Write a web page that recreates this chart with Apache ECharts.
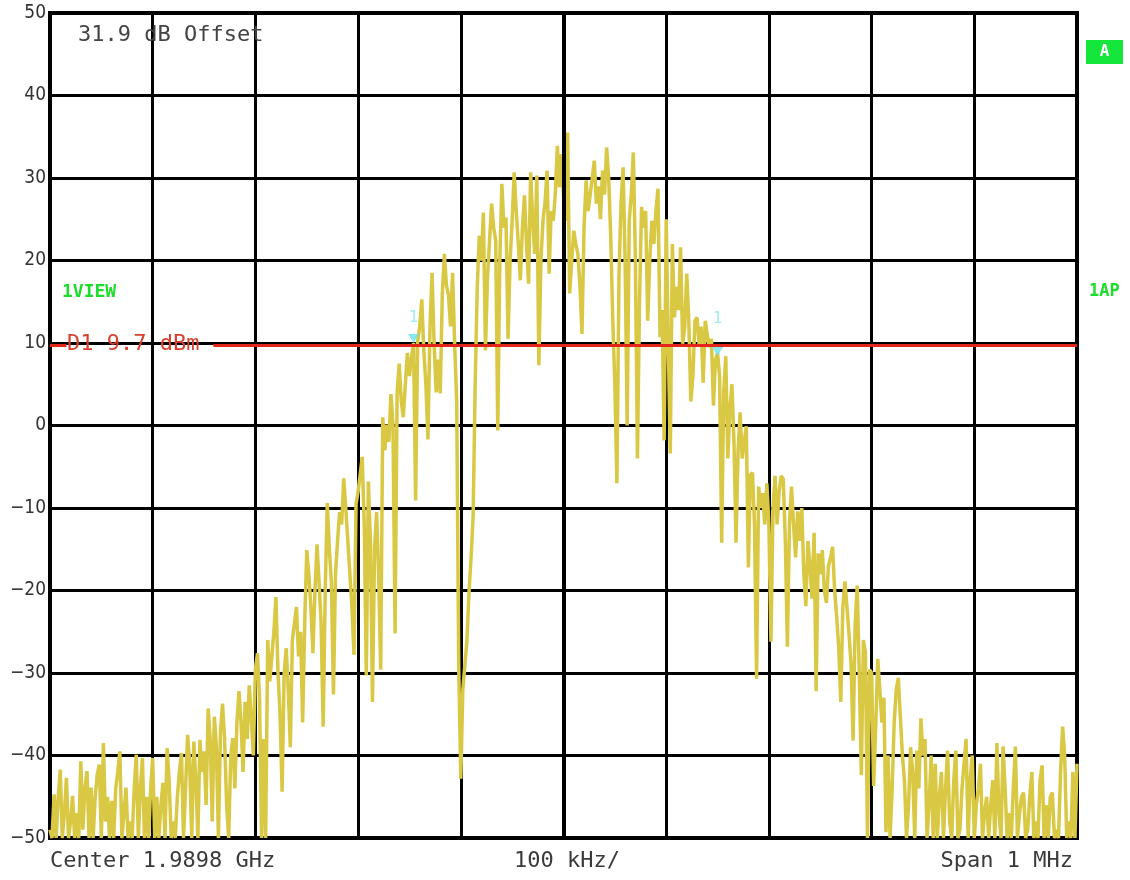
<!DOCTYPE html>
<html>
<head>
<meta charset="utf-8">
<script src="https://cdn.jsdelivr.net/npm/echarts@6/dist/echarts.min.js"></script>
<style>
  html, body { margin: 0; padding: 0; background: #ffffff; }
  #chart { width: 1130px; height: 880px; }
</style>
</head>
<body>
<div id="chart"></div>
<script>
// Sweep: 1 MHz span around the centre frequency, offsets in kHz
const sweepStartKHz = -500;
const sweepSpanKHz = 1000;

// Level axis (dBm)
const levelMin = -50;
const levelMax = 50;
const levelStep = 10;

// Display line D1
const displayLineLevel = 9.7;

// Marker "1" positions (kHz offset, dBm)
const markerFreqKHz = [-146, 150];
const markerLevel = [9.7, 9.7];

// Measured trace, 501 sweep points (dBm), 25 points per row = 50 kHz
const traceLevels = [
  -49, -50, -44.7, -50, -45, -41.7, -50, -47, -42.7, -50, -48, -44.9, -50, -47, -50, -40.7, -49, -44, -41.9, -50, -43.9, -50, -45, -42.3, -41.1,
  -50, -38.5, -48, -45, -50, -45.5, -50, -44, -42, -39.5, -50, -47, -43.9, -50, -48, -50, -44, -39.9, -50, -44, -40.3, -50, -45, -50, -44,
  -40.3, -50, -45, -50, -46, -43.3, -50, -39.1, -43, -50, -48, -50, -45, -42, -39.7, -50, -44, -37.5, -41, -50, -38.3, -43, -50, -38.1, -42,
  -39.5, -46, -34.3, -38, -48, -35.3, -39, -50, -37, -33.7, -38, -46, -50, -40, -37.9, -44, -36, -32.2, -36, -42, -33.5, -38, -31.5, -35.5, -40,
  -29.5, -27.6, -33, -50, -38, -50, -26, -31, -28, -25, -20.8, -30, -35, -44.4, -30, -27, -32, -39, -26, -24, -22, -28, -25, -36, -24,
  -15.1, -18, -22, -27.6, -20, -14.4, -19, -24, -36.5, -20, -9.4, -15, -19, -32.6, -18, -14, -10.5, -12, -6.4, -10, -14, -18, -22, -27.8, -9.5,
  -8, -6, -3.8, -12, -30.3, -6.8, -14, -33.5, -15, -10.5, -18, -29.6, 1.0, -3, 0.1, -2, 3.8, 0, -25.2, 4, 7.5, 3, 1, 5, 8.8,
  6, 8.2, 10, -9.1, 10.2, 12, 15.3, 9, 5, -1.7, 12, 18.5, 10, 4, 8, 3.9, 16, 20.8, 17, 15.8, 12, 18.5, 10, 2.9, -29.4,
  -42.8, -32, -29, -26, -20.2, -16, -11, 5, 16.7, 23, 20, 25.8, 9.1, 18, 22.4, 26.9, 24, 22.4, -0.6, 20, 29.3, 24, 25.2, 10.5, 20,
  24.8, 30.7, 26, 22, 17.6, 24, 27.9, 22, 17.2, 30.7, 25, 20.8, 30.3, 7.3, 20, 24.8, 27, 30.9, 18.4, 26, 24.8, 28, 33.9, 28.9, 32.9,
  28, 24.8, 35.5, 16, 20, 23.6, 22, 20.8, 17, 11.1, 24, 29.7, 26, 28, 30, 32.1, 26.9, 29, 25, 30.9, 28, 33.7, 30, 22.8, 12.7,
  5, -7, 18, 26.9, 31.3, 20, 0, 24.8, 28, 33.1, 20, -4, 15, 26.5, 24, 26, 12.7, 20, 24.8, 22, 26, 28.7, 10.7, 14, -1.8,
  25, 10, -3.4, 22, 13.1, 16.8, 14, 21.6, 9.9, 11.8, 18.4, 12.7, 2.9, 6, 12.7, 13.1, 9.9, 12, 5.2, 12.7, 11, 9.5, 10.5, 2.4, 8,
  8.8, 6, -14.2, 4, 8.4, -4, 2, 5, -2, -14.2, -3, 1.6, -4, -2, -0.1, -17.2, -6, -5.7, -12, -30.7, -7.4, -10, -8.2, -12, -7,
  -12, -26.2, -10, -6.1, -12, -8, -6.1, -6.5, -14, -26.8, -12, -7.4, -12, -16, -10.4, -14, -10, -18, -21.9, -14, -17, -21, -13, -32.2, -15.5,
  -18, -15.1, -20, -21.5, -17, -16, -14.7, -20, -23.2, -27, -33.5, -22, -18.9, -22, -25.3, -29, -38.2, -24, -19.4, -30, -42.4, -26, -27.5, -50, -29.6,
  -30, -43.7, -36.5, -28.3, -32, -36, -33, -49.3, -40, -50, -44, -36, -32, -30.6, -35.3, -40, -43, -50, -46, -39, -42, -50, -39.4, -44, -35.5,
  -40, -38, -50, -46, -40, -50, -41, -50, -45, -42, -50, -44, -39.4, -48, -50, -43, -39.4, -50, -49, -44, -41, -38, -50, -43, -40,
  -50, -46, -44, -41, -50, -47, -45, -50, -46, -43, -50, -38.5, -47, -50, -38.9, -44, -50, -47, -50, -44, -38.9, -50, -47, -45, -44.5,
  -50, -49, -45, -42, -50, -48, -50, -43, -41.2, -50, -46, -50, -45, -44.5, -50, -49, -50, -42, -36.5, -40, -50, -48, -50, -42, -50,
  -41
];

const sweepStep = sweepSpanKHz / (traceLevels.length - 1);
const traceData = traceLevels.map((v, i) => [sweepStartKHz + i * sweepStep, v]);
const markerData = markerFreqKHz.map((f, i) => [f, markerLevel[i]]);

const monoFont = '"DejaVu Sans Mono", "Liberation Mono", monospace';
const chart = echarts.init(document.getElementById('chart'), null, { renderer: 'canvas' });

chart.setOption({
  animation: false,
  backgroundColor: '#ffffff',
  grid: {
    left: 50, right: 53, top: 13, bottom: 42,
    show: true, borderColor: '#000000', borderWidth: 4, backgroundColor: '#ffffff'
  },
  xAxis: {
    type: 'value',
    min: sweepStartKHz,
    max: sweepStartKHz + sweepSpanKHz,
    interval: 100,
    axisLine: { show: false },
    axisTick: { show: false },
    axisLabel: { show: false },
    splitLine: { show: true, lineStyle: { color: '#000000', width: 3 } }
  },
  yAxis: {
    type: 'value',
    min: levelMin,
    max: levelMax,
    interval: levelStep,
    axisLine: { show: false },
    axisTick: { show: false },
    axisLabel: {
      color: '#333333',
      fontSize: 19,
      fontFamily: '"Liberation Sans Narrow", "DejaVu Sans Condensed", "Liberation Sans", sans-serif',
      margin: 4,
      formatter: v => (v < 0 ? '\u2212' + Math.abs(v) : String(v))
    },
    splitLine: { show: true, lineStyle: { color: '#000000', width: 3 } }
  },
  series: [
    {
      // heavier centre-frequency graticule line
      type: 'line',
      data: [],
      z: 1,
      markLine: {
        silent: true,
        symbol: 'none',
        label: { show: false },
        lineStyle: { color: '#000000', width: 4, type: 'solid' },
        data: [{ xAxis: 0 }]
      }
    },
    {
      name: 'Trace 1',
      type: 'line',
      data: traceData,
      showSymbol: false,
      sampling: false,
      z: 3,
      lineStyle: { color: '#d9c843', width: 3.5, join: 'miter', miterLimit: 2 },
      emphasis: { disabled: true }
    },
    {
      // display line D1, broken where its readout is printed
      type: 'line',
      data: [],
      z: 4,
      markLine: {
        silent: true,
        symbol: 'none',
        label: { show: false },
        lineStyle: { color: '#e3261b', width: 3, type: 'solid' },
        data: [
          [{ coord: [sweepStartKHz, displayLineLevel] }, { coord: [-484, displayLineLevel] }],
          [{ coord: [-341, displayLineLevel] }, { coord: [sweepStartKHz + sweepSpanKHz, displayLineLevel] }]
        ]
      }
    },
    {
      name: 'Marker 1',
      type: 'scatter',
      z: 5,
      symbol: 'triangle',
      symbolRotate: 180,
      symbolSize: [11, 9],
      itemStyle: { color: '#66e3f0' },
      label: {
        show: true,
        formatter: '1',
        position: 'top',
        color: '#8ae8f2',
        fontSize: 16,
        fontFamily: monoFont
      },
      data: [
        { value: markerData[0], symbolOffset: [0, -7], label: { distance: 8 } },
        { value: markerData[1], symbolOffset: [0, 6], label: { distance: 20 } }
      ]
    }
  ],
  graphic: [
    {
      type: 'text', z: 10,
      style: { x: 78, y: 35, text: '31.9 dB Offset', font: '22px ' + monoFont, fill: '#444444', textVerticalAlign: 'middle' }
    },
    {
      type: 'text', z: 10,
      style: { x: 67, y: 344, text: 'D1 9.7 dBm', font: '22px ' + monoFont, fill: '#d8402e', textVerticalAlign: 'middle' }
    },
    {
      type: 'text', z: 10,
      style: { x: 62, y: 292, text: '1VIEW', font: 'bold 18px ' + monoFont, fill: '#1edc2c', textVerticalAlign: 'middle' }
    },
    {
      type: 'text', z: 10,
      style: { x: 1089, y: 292, text: '1AP', font: 'bold 17px ' + monoFont, fill: '#1edc2c', textVerticalAlign: 'middle' }
    },
    {
      type: 'rect', z: 10,
      shape: { x: 1086, y: 40, width: 37, height: 24 },
      style: { fill: '#14e63c' }
    },
    {
      type: 'text', z: 11,
      style: { x: 1104.5, y: 52, text: 'A', font: 'bold 16px ' + monoFont, fill: '#ffffff', textAlign: 'center', textVerticalAlign: 'middle' }
    },
    {
      type: 'text', z: 10,
      style: { x: 50, y: 861, text: 'Center 1.9898 GHz', font: '22px ' + monoFont, fill: '#3a3a3a', textVerticalAlign: 'middle' }
    },
    {
      type: 'text', z: 10,
      style: { x: 567, y: 861, text: '100 kHz/', font: '22px ' + monoFont, fill: '#3a3a3a', textAlign: 'center', textVerticalAlign: 'middle' }
    },
    {
      type: 'text', z: 10,
      style: { x: 1073, y: 861, text: 'Span 1 MHz', font: '22px ' + monoFont, fill: '#3a3a3a', textAlign: 'right', textVerticalAlign: 'middle' }
    }
  ]
});
</script>
</body>
</html>
